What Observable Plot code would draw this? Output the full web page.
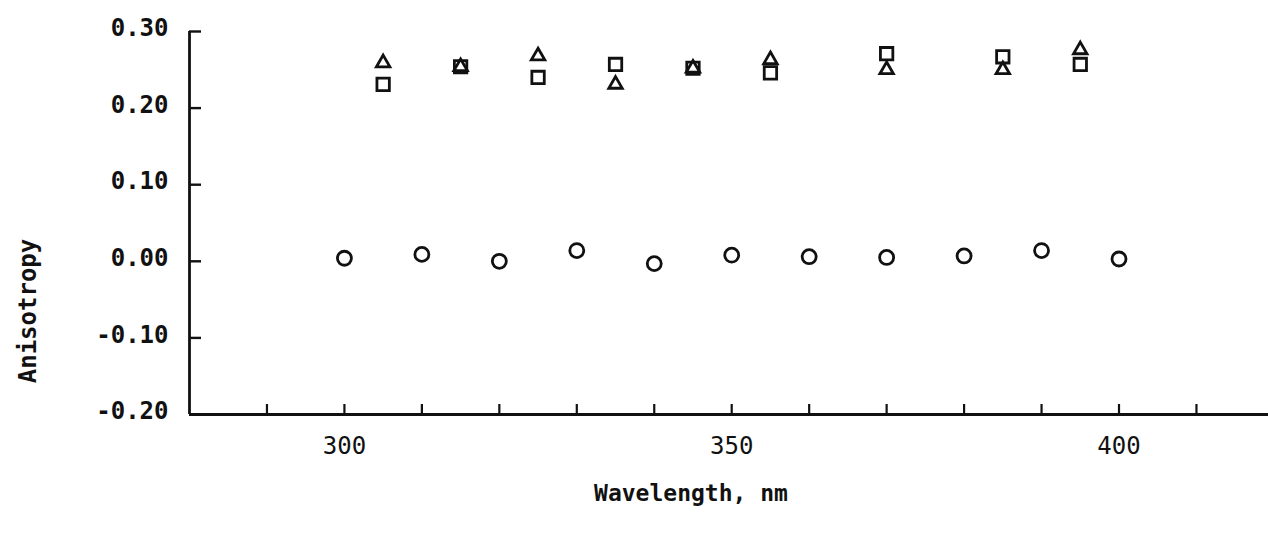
<!DOCTYPE html>
<html>
<head>
<meta charset="utf-8">
<script src="https://cdn.jsdelivr.net/npm/d3@7"></script>
<script src="https://cdn.jsdelivr.net/npm/@observablehq/plot@0.6"></script>
<style>
  html, body { margin: 0; padding: 0; background: #ffffff; }
  #chart svg { display: block; }
</style>
</head>
<body>
<div id="chart"></div>
<script>
// ---- data ----
const circleWavelengths = [300, 310, 320, 330, 340, 350, 360, 370, 380, 390, 400];
const circleAnisotropy  = [0.004, 0.009, 0.000, 0.014, -0.003, 0.008, 0.006, 0.005, 0.007, 0.014, 0.003];

const pairWavelengths    = [305, 315, 325, 335, 345, 355, 370, 385, 395];
const triangleAnisotropy = [0.259, 0.254, 0.268, 0.231, 0.252, 0.263, 0.250, 0.250, 0.276];
const squareAnisotropy   = [0.231, 0.254, 0.240, 0.257, 0.252, 0.246, 0.271, 0.267, 0.257];

const xTickValues  = [290, 300, 310, 320, 330, 340, 350, 360, 370, 380, 390, 400, 410];
const xLabelValues = [300, 350, 400];
const yTickValues  = [-0.2, -0.1, 0.0, 0.1, 0.2, 0.3];
const xDomain = [280, 419.3];
const yDomain = [-0.2, 0.3];
const xTitle = "Wavelength, nm";
const yTitle = "Anisotropy";

// ---- tables built from the arrays ----
const circles   = circleWavelengths.map((w, i) => ({w, a: circleAnisotropy[i]}));
const triangles = pairWavelengths.map((w, i) => ({w, a: triangleAnisotropy[i]}));
const squares   = pairWavelengths.map((w, i) => ({w, a: squareAnisotropy[i]}));

const FONT = "'DejaVu Sans Mono', monospace";
const INK = "#111111";

const chart = Plot.plot({
  width: 1268,
  height: 534,
  marginLeft: 189,
  marginRight: 0,
  marginTop: 31,
  marginBottom: 120,
  style: { fontFamily: FONT, background: "#ffffff", color: INK },
  x: { domain: xDomain },
  y: { domain: yDomain },
  marks: [
    // axis lines
    Plot.ruleX([xDomain[0]], { stroke: INK, strokeWidth: 2.8 }),
    Plot.ruleY([yDomain[0]], { stroke: INK, strokeWidth: 2.8 }),
    // y ticks (inward) and labels
    Plot.axisY({ ticks: yTickValues, tickSize: -12, tickFormat: () => "", strokeWidth: 2.4, stroke: INK, label: null }),
    Plot.axisY({ ticks: yTickValues, tickSize: 0, tickPadding: 21, tickFormat: d => d.toFixed(2),
                 fontSize: 24, fontWeight: "bold", letterSpacing: 1.8, fill: INK, dy: -3, label: null }),
    // x ticks (inward) and labels
    Plot.axisX({ ticks: xTickValues, tickSize: -10, tickFormat: () => "", strokeWidth: 2.2, stroke: INK, label: null }),
    Plot.axisX({ ticks: xLabelValues, tickSize: 0, tickPadding: 22, tickFormat: d => String(d),
                 fontSize: 24, letterSpacing: 1.5, fill: INK, label: null }),
    // axis titles
    Plot.text([xTitle], { frameAnchor: "bottom", dx: -38, dy: 79, fontSize: 23, fontWeight: "bold",
                          letterSpacing: 0.5, fill: INK, textAnchor: "middle", lineAnchor: "middle" }),
    Plot.text([yTitle], { frameAnchor: "left", dx: -161, dy: 88, rotate: -90, fontSize: 24, fontWeight: "bold",
                          letterSpacing: 3.2, fill: INK, textAnchor: "middle", lineAnchor: "middle" }),
    // data
    Plot.dot(circles,   { x: "w", y: "a", symbol: "circle",   r: 7,   stroke: INK, strokeWidth: 2.8, fill: "none" }),
    Plot.dot(squares,   { x: "w", y: "a", symbol: "square",   r: 7,   stroke: INK, strokeWidth: 2.8, fill: "none" }),
    Plot.dot(triangles, { x: "w", y: "a", symbol: "triangle", r: 5,   stroke: INK, strokeWidth: 2.8, fill: "none" })
  ]
});

document.getElementById("chart").appendChild(chart);
</script>
</body>
</html>
